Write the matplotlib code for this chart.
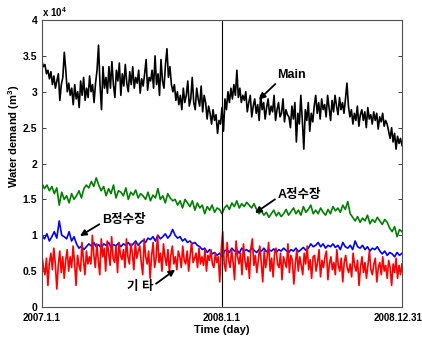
import numpy as np
import matplotlib
matplotlib.use("Agg")
import matplotlib.pyplot as plt
from matplotlib.transforms import ScaledTranslation

# water demand (unit: 10^4 m3)
# Main and others: every ~3 days, A/B plants: every ~5 days
main_demand = [
    3.42, 3.35, 3.38, 3.25, 3.3, 3.18, 3.28, 3.1, 3.22, 3.05, 3.15, 3.25, 2.88, 3.1,
    3.2, 3.55, 3.3, 3.0, 3.12, 2.95,
    3.05, 2.82, 3.1, 2.9, 3.0, 2.78, 3.15, 2.95, 3.2, 2.88, 3.05, 2.92, 3.22, 3.0, 3.1, 2.85, 3.12,
    3.3, 3.65, 3.1, 2.75, 3.35, 3.05,
    3.2, 2.98, 3.35, 3.05, 3.42, 3.1, 2.92, 3.3, 3.15, 3.4, 2.95, 3.25, 3.08, 3.38, 3.12, 3.0, 3.28,
    3.1, 3.35, 3.05, 3.2, 3.12, 3.3, 2.98, 3.18, 3.08, 3.25, 3.45, 3.02, 3.2, 3.15, 3.3, 3.05,
    3.5, 3.1, 3.25, 2.95, 3.45, 3.15, 3.05, 3.38, 3.6, 3.2, 3.35, 3.1, 3.0,
    3.1, 2.88, 3.0, 2.82, 2.95, 2.75, 3.05, 2.85, 2.95, 3.15, 2.8, 2.9, 3.2, 2.85, 2.75, 3.05, 2.9,
    2.8, 3.08, 2.72, 2.95, 2.85, 2.62, 2.8, 2.7, 2.55, 2.75, 2.6, 2.68, 2.42, 2.6, 2.55,
    2.78, 2.45, 2.9, 2.75, 3.0, 2.85, 3.05, 2.9, 3.1, 2.95, 3.3, 2.92, 3.05, 2.85, 2.95,
    2.88, 3.0, 2.72, 2.85, 2.95, 2.65, 2.8, 2.9, 2.7, 2.82, 2.6, 2.95, 2.75, 2.85, 2.62,
    2.78, 2.9, 2.68, 2.8, 2.72, 2.95, 2.6, 2.75, 2.85, 2.65, 2.7, 2.9, 2.58, 2.75, 2.68,
    2.65, 2.5, 2.8, 2.62, 2.85, 2.3, 2.7, 2.55, 2.95, 2.6, 2.2, 2.75, 2.6, 2.85, 2.45, 2.7, 2.58,
    2.8, 2.95, 2.7, 2.85, 2.62, 2.9, 2.75, 2.82, 2.65, 2.95, 2.78, 2.6, 2.88, 2.72, 2.95, 2.8,
    2.68, 2.92, 2.75, 2.85, 2.7, 2.9, 3.12,
    2.8, 2.65, 2.75, 2.55, 2.7, 2.6, 2.8, 2.52, 2.68, 2.75, 2.6, 2.72, 2.5, 2.78, 2.62, 2.68,
    2.55, 2.72, 2.6, 2.7, 2.48, 2.65, 2.58, 2.7, 2.52, 2.6, 2.55,
    2.45, 2.35, 2.5, 2.3, 2.42, 2.2, 2.38, 2.28, 2.35, 2.25,
]
plant_a = [
    1.72, 1.65, 1.7, 1.62, 1.68, 1.58, 1.66,
    1.42, 1.6, 1.5, 1.55, 1.45, 1.58, 1.5,
    1.55, 1.62, 1.52, 1.65,
    1.7, 1.66, 1.75, 1.68, 1.8, 1.7,
    1.62, 1.68, 1.55, 1.65, 1.58, 1.7, 1.52, 1.62, 1.6, 1.55, 1.66, 1.5, 1.6, 1.56, 1.63, 1.52, 1.58,
    1.55, 1.5, 1.6, 1.48, 1.56, 1.52, 1.65, 1.5, 1.55, 1.45, 1.58, 1.52, 1.48,
    1.5, 1.42, 1.48, 1.38, 1.5, 1.45, 1.4, 1.48, 1.35, 1.45,
    1.38, 1.42, 1.3, 1.4, 1.35, 1.42, 1.32, 1.38, 1.36, 1.3,
    1.38, 1.42, 1.36, 1.45, 1.4, 1.48, 1.38, 1.44, 1.4, 1.46, 1.42, 1.38, 1.44, 1.36,
    1.3, 1.34, 1.28, 1.32, 1.25, 1.3, 1.35, 1.27, 1.32, 1.26, 1.3, 1.36,
    1.28, 1.33, 1.38, 1.3, 1.35, 1.28, 1.4, 1.32, 1.36, 1.42, 1.3,
    1.35, 1.3, 1.38, 1.32, 1.28, 1.36, 1.3, 1.4, 1.34, 1.38, 1.32, 1.42, 1.36, 1.47,
    1.3, 1.25, 1.2, 1.26, 1.18, 1.24, 1.2, 1.28, 1.16, 1.22, 1.18, 1.25, 1.2, 1.15, 1.22, 1.18,
    1.1, 1.05, 1.12, 0.98, 1.08, 1.05,
]
plant_b = [
    1.0, 0.95, 1.02, 0.92, 0.98, 1.05, 0.96,
    1.2, 1.0,
    0.98, 0.95, 1.05, 0.92, 0.98,
    0.88, 0.82, 0.85, 0.8, 0.84,
    0.88, 0.85, 0.9, 0.84, 0.87, 0.82, 0.88, 0.86, 0.9, 0.83, 0.87,
    0.85, 0.89, 0.84, 0.88, 0.86, 0.9, 0.85, 0.88, 0.92, 0.86, 0.9,
    0.93, 0.9, 0.96, 0.94, 0.98, 0.92, 1.0, 0.95, 0.98, 1.02, 0.96, 1.0, 1.08,
    1.0, 0.96, 0.98, 0.92, 0.95, 0.9, 0.92, 0.88, 0.9, 0.86,
    0.84, 0.8, 0.82, 0.76, 0.8, 0.74, 0.76, 0.72, 0.75, 0.7,
    0.78, 0.8, 0.76, 0.82, 0.78, 0.8, 0.75, 0.82, 0.78, 0.8,
    0.77, 0.82, 0.79, 0.76, 0.8, 0.78, 0.82, 0.77, 0.8,
    0.78, 0.81, 0.76, 0.8, 0.78, 0.82, 0.79, 0.76, 0.8,
    0.78, 0.82, 0.77, 0.8, 0.83, 0.79, 0.82, 0.88, 0.84,
    0.86, 0.9, 0.84, 0.88, 0.82, 0.86, 0.84, 0.88,
    0.83, 0.86, 0.8, 0.9, 0.84, 0.82, 0.86, 0.8, 0.92,
    0.84, 0.82, 0.86, 0.8, 0.84, 0.78, 0.82, 0.8, 0.84,
    0.78, 0.74, 0.78, 0.72, 0.76, 0.74, 0.7, 0.76, 0.72, 0.75,
]
others = [
    0.72, 0.55, 0.45, 0.68, 0.3, 0.62, 0.75, 0.52, 0.82, 0.6, 0.25, 0.58, 0.78, 0.48, 0.7, 0.4,
    0.65, 0.8, 0.5, 0.7,
    0.55, 0.85, 0.62, 0.3, 0.72, 0.58, 0.5, 0.9, 0.65, 0.45, 0.78, 0.6, 0.7,
    0.6, 1.0, 0.72, 0.55, 0.88, 0.65, 0.45, 0.95, 0.7, 0.82, 0.5, 0.92, 0.75, 0.58, 0.98, 0.68,
    0.62, 0.85, 0.48, 0.9, 0.72, 0.66, 0.8, 0.55, 0.95, 0.7, 0.6, 0.88, 0.75, 0.52, 0.9, 0.68, 0.78,
    0.85, 0.62, 0.45, 0.95, 0.7, 0.6, 0.78, 0.4, 0.72, 0.9, 0.55, 0.68, 1.0, 0.62, 0.75, 0.5,
    0.88, 0.7, 0.58, 0.8, 0.48, 0.72, 0.85, 0.6, 0.7, 0.52, 0.78,
    0.7, 0.55, 0.85, 0.65, 0.6, 0.78, 0.5, 0.72, 0.9, 0.62, 0.68, 0.75, 0.55, 0.82, 0.6, 0.7,
    0.58, 0.8, 0.5, 0.72, 0.65, 0.8, 0.6, 0.55, 0.75, 0.62, 0.7,
    0.35, 0.8, 1.05, 0.6, 0.5, 0.9, 0.65,
    0.55, 0.8, 0.62, 0.38, 0.92, 0.7, 0.6, 0.75, 0.45, 0.88, 0.65, 0.52, 0.7, 0.4, 0.82, 0.95,
    0.58, 0.72, 0.48, 0.65, 0.85, 0.62, 0.35, 0.78, 0.55, 0.7, 0.9, 0.5, 0.68, 0.42, 0.75, 0.82,
    0.6, 0.55, 0.75, 0.38, 0.7, 0.62, 0.55, 0.88, 0.48, 0.72, 0.65, 0.32, 0.6, 0.8, 0.5, 0.7,
    0.58, 0.45, 0.75, 0.6, 0.85, 0.52, 0.66, 0.4, 0.7,
    0.72, 0.5, 0.62, 0.8, 0.42, 0.65, 0.55, 0.7, 0.78, 0.38, 0.6, 0.7, 0.52, 0.62, 0.45, 0.8,
    0.58, 0.5, 0.68, 0.35, 0.62, 0.72, 0.55, 0.48, 0.6, 0.42, 0.75, 0.58, 0.5, 0.65, 0.3, 0.55,
    0.7, 0.48, 0.62, 0.4, 0.58, 0.78, 0.52, 0.45, 0.6, 0.68, 0.35, 0.55, 0.62, 0.45, 0.7, 0.5,
    0.58, 0.4, 0.65, 0.55, 0.3, 0.6, 0.48, 0.68, 0.4, 0.58, 0.45, 0.6,
]

n_days = 730
date_ticks = [0, 365, 730]
date_labels = ["2007.1.1", "2008.1.1", "2008.12.31"]
y_ticks = [0, 0.5, 1, 1.5, 2, 2.5, 3, 3.5, 4]
y_labels = ["0", "0.5", "1", "1.5", "2", "2.5", "3", "3.5", "4"]

plt.rcParams["font.family"] = ["Liberation Sans", "Noto Sans CJK KR", "DejaVu Sans"]
plt.rcParams["mathtext.fontset"] = "custom"
plt.rcParams["mathtext.rm"] = "Liberation Sans:bold"

fig = plt.figure(figsize=(4.22, 3.38), dpi=100)
ax = fig.add_axes([0.0995, 0.0917, 0.8531, 0.8491])


def days(series):
    return np.linspace(0, n_days, len(series))


ax.plot(days(main_demand), main_demand, color="black", lw=1.2)
ax.plot(days(plant_a), plant_a, color="#008000", lw=1.2)
ax.plot(days(plant_b), plant_b, color="#0000ff", lw=1.2)
ax.plot(days(others), others, color="#ff0000", lw=1.2)
ax.axvline(365, color="black", lw=0.8)

ax.set_xlim(0, n_days)
ax.set_ylim(0, 4)
ax.set_xticks(date_ticks)
ax.set_xticklabels(date_labels, fontsize=7, fontweight="bold")
ax.set_yticks(y_ticks)
ax.set_yticklabels(y_labels, fontsize=7.5, fontweight="bold")
ax.tick_params(direction="in", length=3, width=0.7, color="#404040", right=True)
ax.tick_params(axis="x", length=0, pad=4)
# last date label sits a bit left so it stays inside the figure
last = ax.get_xticklabels()[-1]
last.set_transform(last.get_transform() + ScaledTranslation(-4 / 100, 0, fig.dpi_scale_trans))
for s in ax.spines.values():
    s.set_color("#505050")
    s.set_linewidth(0.8)

ax.set_xlabel("Time (day)", fontsize=8, fontweight="bold", labelpad=2)
ax.set_ylabel("Water demand (m$^3$)", fontsize=8, fontweight="bold")
ax.yaxis.set_label_coords(-0.056, 0.596)
ax.text(0, 1.012, "x 10$^4$", transform=ax.transAxes, fontsize=7, fontweight="bold")

arrow = dict(arrowstyle="-|>", color="black", lw=1.3, mutation_scale=9, shrinkA=0, shrinkB=0)
ax.annotate("Main", xy=(440, 2.89), xytext=(476, 3.23), fontsize=9, fontweight="bold",
            va="center", arrowprops=dict(arrow, relpos=(0.05, 0.0)))
ax.annotate("A정수장", xy=(432, 1.31), xytext=(478, 1.56), fontsize=9, fontweight="bold",
            va="center", arrowprops=dict(arrow, relpos=(0.0, 0.3)))
ax.annotate("B정수장", xy=(77, 0.99), xytext=(122, 1.21), fontsize=9, fontweight="bold",
            va="center", arrowprops=dict(arrow, relpos=(0.0, 0.3)))
ax.annotate("기 타", xy=(270, 0.52), xytext=(172, 0.28), fontsize=9, fontweight="bold",
            va="center", arrowprops=dict(arrow, relpos=(1.0, 0.6)))

fig.savefig("out.png", dpi=100)
